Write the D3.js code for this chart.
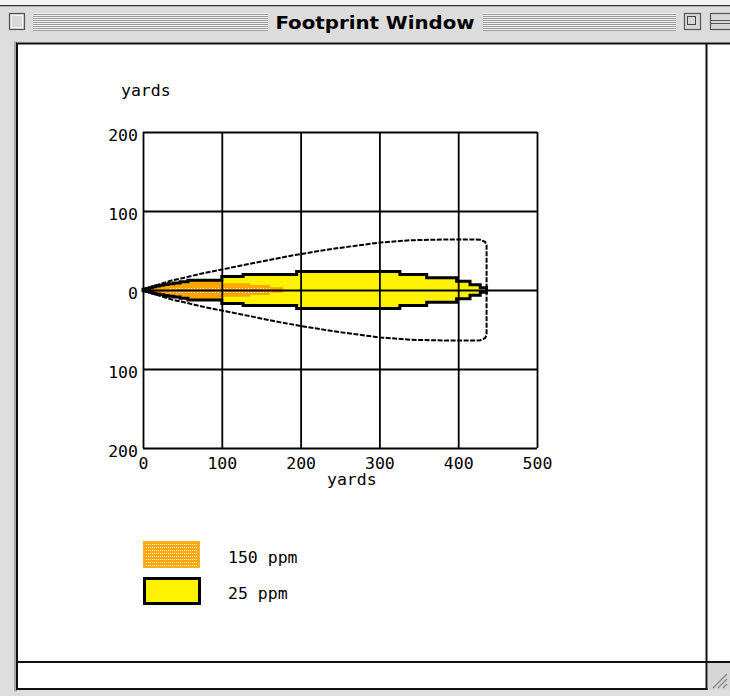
<!DOCTYPE html>
<html>
<head>
<meta charset="utf-8">
<script src="https://cdn.jsdelivr.net/npm/d3@7"></script>
<style>
  html, body { margin: 0; padding: 0; background: #fff; }
  svg { display: block; }
  .mono { font-family: "DejaVu Sans Mono", "Liberation Mono", monospace; font-size: 16.5px; fill: #000; }
</style>
</head>
<body>
<svg id="chart" width="730" height="696"></svg>
<script>
// ---------------- DATA (yards) ----------------
const windowTitle = "Footprint Window";
const xTicks = [0, 100, 200, 300, 400, 500];
const yTicks = [-200, -100, 0, 100, 200];
const yTickLabels = ["200", "100", "0", "100", "200"];
const axisTitle = "yards";

// 25 ppm footprint: downwind distance and half-width (steps)
const yellowX  = [0, 4, 8, 12, 16, 21, 26, 32, 39, 47, 57, 100, 127, 195, 326, 360, 398, 415, 428, 436];
const yellowHW = [1, 2, 3, 4, 5, 6, 7, 8, 9, 10.5, 12.5, 17, 19.5, 23.5, 19.5, 15.5, 11, 6.5, 3, 0];

// 150 ppm footprint
const orangeX  = [0, 4, 8, 12, 16, 21, 26, 32, 39, 47, 57, 100, 136, 161, 178];
const orangeHW = [1, 2, 3, 4, 5, 6, 7, 8, 9, 10.5, 12.5, 8.5, 6.3, 3.4, 0];

// dotted core of the 150 ppm zone
const coreX = [34, 161];
const coreRows = [3, -3];

// outer contour: upper half-width
const outerX  = [0, 25, 38, 50, 75, 100, 125, 150, 175, 200, 240, 300, 340, 390, 420, 428, 434, 436];
const outerHW = [0, 8.5, 12.5, 15, 21, 26, 31, 36, 41, 45.5, 52, 60, 63, 64, 64, 63.5, 61, 57];

const legendLabels = ["150 ppm", "25 ppm"];
const legendColors = ["#ffa500", "#fff200"];

// ---------------- DRAW ----------------
const svg = d3.select("#chart");
const W = 730, H = 696;

svg.append("rect").attr("width", W).attr("height", H).attr("fill", "#dedede");
svg.append("rect").attr("width", W).attr("height", 5).attr("fill", "#f4f4f4");
svg.append("rect").attr("x", 0).attr("y", 5).attr("width", W).attr("height", 1.5).attr("fill", "#333");
svg.append("rect").attr("x", 0).attr("y", 6.5).attr("width", W).attr("height", 35).attr("fill", "#dcdcdc");

function stripes(x0, x1) {
  const g = svg.append("g");
  g.append("rect").attr("x", x0).attr("y", 13).attr("width", x1 - x0).attr("height", 18).attr("fill", "#f2f2f2");
  for (let yy = 14; yy <= 30; yy += 2) {
    g.append("rect").attr("x", x0).attr("y", yy).attr("width", x1 - x0).attr("height", 1).attr("fill", "#9a9a9a");
  }
}
stripes(33, 268);
stripes(483, 676);

svg.append("rect").attr("x", 9.5).attr("y", 13.5).attr("width", 15).attr("height", 16)
  .attr("fill", "#d8d8d8").attr("stroke", "#555").attr("stroke-width", 1.2);
svg.append("rect").attr("x", 11.5).attr("y", 15.5).attr("width", 11).attr("height", 12)
  .attr("fill", "none").attr("stroke", "#f5f5f5").attr("stroke-width", 1);
svg.append("rect").attr("x", 684.5).attr("y", 13.5).attr("width", 16).attr("height", 16)
  .attr("fill", "#d8d8d8").attr("stroke", "#555").attr("stroke-width", 1.2);
svg.append("rect").attr("x", 687.5).attr("y", 16.5).attr("width", 8).attr("height", 8)
  .attr("fill", "none").attr("stroke", "#444").attr("stroke-width", 1);
svg.append("rect").attr("x", 710.5).attr("y", 13.5).attr("width", 22).attr("height", 16)
  .attr("fill", "#d8d8d8").attr("stroke", "#555").attr("stroke-width", 1.2);
svg.append("line").attr("x1", 711).attr("x2", 732).attr("y1", 20.5).attr("y2", 20.5).attr("stroke", "#555");
svg.append("line").attr("x1", 711).attr("x2", 732).attr("y1", 23.5).attr("y2", 23.5).attr("stroke", "#555");

svg.append("text").attr("x", 375).attr("y", 29).attr("text-anchor", "middle")
  .attr("font-family", "'DejaVu Sans Condensed', 'DejaVu Sans', sans-serif")
  .attr("font-weight", "bold").attr("font-size", 18)
  .attr("textLength", 199).attr("lengthAdjust", "spacingAndGlyphs")
  .text(windowTitle);

svg.append("rect").attr("x", 14).attr("y", 41.5).attr("width", 3).attr("height", 650).attr("fill", "#a8a8a8");
svg.append("rect").attr("x", 17).attr("y", 43).attr("width", W - 17).attr("height", 646).attr("fill", "#fff");
svg.append("rect").attr("x", 708).attr("y", 663).attr("width", 22).attr("height", 27).attr("fill", "#d6d6d6");
for (let i = 0; i < 3; i++) {
  svg.append("line").attr("x1", 713 + i * 5).attr("y1", 688).attr("x2", 727).attr("y2", 674 + i * 5)
    .attr("stroke", "#888").attr("stroke-width", 1.3);
}
svg.append("line").attr("x1", 16).attr("x2", W).attr("y1", 43.5).attr("y2", 43.5).attr("stroke", "#111").attr("stroke-width", 2);
svg.append("line").attr("x1", 17).attr("x2", 17).attr("y1", 43).attr("y2", 690).attr("stroke", "#111").attr("stroke-width", 2);
svg.append("line").attr("x1", 706.5).attr("x2", 706.5).attr("y1", 43).attr("y2", 690).attr("stroke", "#111").attr("stroke-width", 2);
svg.append("line").attr("x1", 16).attr("x2", W).attr("y1", 662).attr("y2", 662).attr("stroke", "#111").attr("stroke-width", 2);
svg.append("line").attr("x1", 16).attr("x2", 707.5).attr("y1", 689).attr("y2", 689).attr("stroke", "#111").attr("stroke-width", 2);

// ---------------- plot ----------------
const x = d3.scaleLinear().domain([0, 500]).range([143, 537]);
const y = d3.scaleLinear().domain([-200, 200]).range([448, 132]);

const toPts = (xs, hs) => xs.map((d, i) => ({ x: d, h: hs[i] }));
const areaStep = d3.area().x(d => x(d.x)).y0(d => y(-d.h)).y1(d => y(d.h)).curve(d3.curveStepAfter);

const yPts = toPts(yellowX, yellowHW);
svg.append("path").datum(yPts).attr("d", areaStep).attr("fill", legendColors[1]);

const oPts = toPts(orangeX, orangeHW);
svg.append("path").datum(oPts).attr("d", areaStep).attr("fill", legendColors[0]);

coreRows.forEach(r => {
  const yy = Math.round(y(r)) + 0.5;
  svg.append("line").attr("x1", Math.round(x(coreX[0]))).attr("x2", Math.round(x(coreX[1])))
    .attr("y1", yy).attr("y2", yy).attr("shape-rendering", "crispEdges")
    .attr("stroke", "#fff").attr("stroke-width", 1).attr("stroke-dasharray", "1,2");
});

const gx = svg.append("g").attr("transform", `translate(0,${y(-200)})`)
  .call(d3.axisBottom(x).tickValues(xTicks).tickFormat(d3.format("d"))
    .tickSize(-(y(-200) - y(200))).tickSizeOuter(0).tickPadding(9));
const gy = svg.append("g").attr("transform", `translate(${x(0)},0)`)
  .call(d3.axisLeft(y).tickValues(yTicks).tickFormat((d, i) => yTickLabels[i])
    .tickSize(-(x(500) - x(0))).tickSizeOuter(0).tickPadding(5));
[gx, gy].forEach(g => {
  g.select(".domain").remove();
  g.selectAll(".tick line").attr("stroke", "#000").attr("stroke-width", 1.8);
  g.selectAll(".tick text").attr("class", "mono").attr("font-family", null).attr("font-size", null);
});
gy.selectAll(".tick text").attr("dy", "0.52em");

svg.append("path").datum(yPts).attr("d", areaStep).attr("fill", "none")
  .attr("stroke", "#000").attr("stroke-width", 3).attr("stroke-linejoin", "miter");

const oTop = outerX.map((d, i) => [d, outerHW[i]]);
const oBot = outerX.map((d, i) => [d, -outerHW[i]]).reverse();
const outerLine = d3.line().x(d => x(d[0])).y(d => y(d[1])).curve(d3.curveLinear);
svg.append("path").datum(oTop.concat(oBot)).attr("d", outerLine)
  .attr("fill", "none").attr("stroke", "#000").attr("stroke-width", 2)
  .attr("stroke-dasharray", "5,1.5");

svg.append("text").attr("class", "mono").attr("x", x(0) - 22).attr("y", 96).text(axisTitle);
svg.append("text").attr("class", "mono").attr("x", x(265)).attr("y", 485).attr("text-anchor", "middle").text(axisTitle);

// ---------------- legend ----------------
const defs = svg.append("defs");
const pat = defs.append("pattern").attr("id", "dots").attr("patternUnits", "userSpaceOnUse")
  .attr("width", 2).attr("height", 3);
pat.append("rect").attr("width", 2).attr("height", 3).attr("fill", legendColors[0]);
pat.append("rect").attr("x", 0).attr("y", 1).attr("width", 1).attr("height", 1).attr("fill", "#fff");

const leg = svg.append("g");
legendLabels.forEach((lab, i) => {
  const yy = 541 + i * 36;
  if (i === 0) {
    leg.append("rect").attr("x", 143).attr("y", yy).attr("width", 57).attr("height", 27).attr("fill", "#ffae1f");
    leg.append("rect").attr("x", 145).attr("y", yy + 2).attr("width", 53).attr("height", 23).attr("fill", "url(#dots)");
  } else {
    leg.append("rect").attr("x", 144.5).attr("y", yy + 1.5).attr("width", 55).attr("height", 25)
      .attr("fill", legendColors[1]).attr("stroke", "#000").attr("stroke-width", 3);
  }
  leg.append("text").attr("class", "mono").attr("x", 228).attr("y", yy + 22).text(lab);
});
</script>
</body>
</html>
